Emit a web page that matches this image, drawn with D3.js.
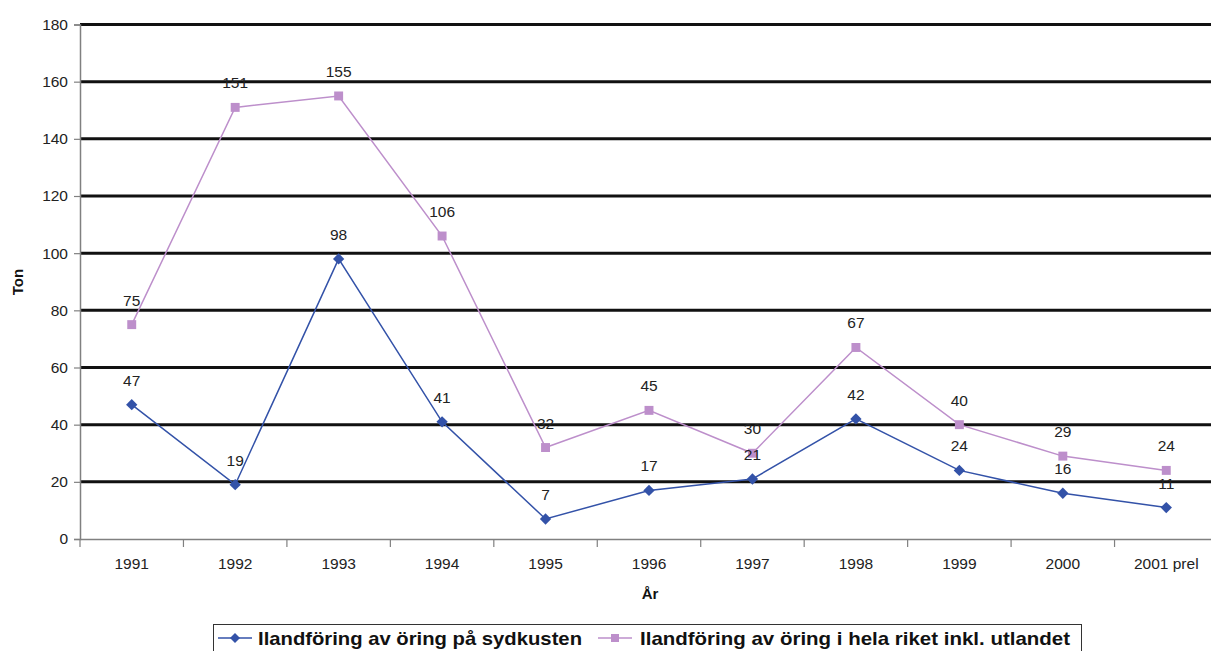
<!DOCTYPE html>
<html><head><meta charset="utf-8">
<script src="https://cdn.jsdelivr.net/npm/d3@7"></script>
<style>body{margin:0;background:#fff}svg{display:block}text{font-family:Arial,"Liberation Sans",sans-serif}</style>
</head><body>
<svg id="c" width="1211" height="651"></svg>
<script>
const categories = ["1991","1992","1993","1994","1995","1996","1997","1998","1999","2000","2001 prel"];
const sydkusten = [47,19,98,41,7,17,21,42,24,16,11];
const riket = [75,151,155,106,32,45,30,67,40,29,24];
const yTicks = [0,20,40,60,80,100,120,140,160,180];
const seriesNames = ["Ilandföring av öring på sydkusten","Ilandföring av öring i hela riket inkl. utlandet"];

const svg = d3.select("#c");
const x = d3.scaleBand().domain(categories).range([80,1218]);
const y = d3.scaleLinear().domain([0,180]).range([539,24.5]);
const cx = d => x(d) + x.bandwidth()/2;

// gridlines
svg.append("g").selectAll("line").data(yTicks.filter(t=>t>0)).join("line")
  .attr("x1",80).attr("x2",1211).attr("y1",d=>y(d)).attr("y2",d=>y(d))
  .attr("stroke","#111").attr("stroke-width",3);

// y axis
const ya = svg.append("g").attr("transform","translate(80,0)")
  .call(d3.axisLeft(y).tickValues(yTicks).tickSize(6).tickPadding(6));
ya.select(".domain").attr("stroke","#808080").attr("stroke-width",1.5);
ya.selectAll(".tick line").attr("stroke","#808080").attr("stroke-width",1.2);
ya.selectAll("text").attr("font-size",15.5).attr("fill","#222").attr("font-family","Arial, Liberation Sans, sans-serif");

// x axis
const xa = svg.append("g").attr("transform","translate(0,539)")
  .call(d3.axisBottom(x).tickSize(0).tickPadding(19));
xa.select(".domain").attr("stroke","#808080").attr("stroke-width",1.5);
xa.selectAll("text").attr("font-size",15.5).attr("fill","#222").attr("font-family","Arial, Liberation Sans, sans-serif");
svg.append("g").selectAll("line").data(categories).join("line")
  .attr("x1",d=>x(d)).attr("x2",d=>x(d)).attr("y1",539).attr("y2",547)
  .attr("stroke","#808080").attr("stroke-width",1.2);

// axis titles
svg.append("text").attr("transform","translate(23,282) rotate(-90)").attr("text-anchor","middle")
  .attr("font-size",15).attr("font-weight","bold").attr("fill","#111").text("Ton");
svg.append("text").attr("x",650).attr("y",599).attr("text-anchor","middle")
  .attr("font-size",15).attr("font-weight","bold").attr("fill","#111").text("År");

const line = d3.line().x((d,i)=>cx(categories[i])).y(d=>y(d));
const blue = "#3352a8", pink = "#bd8fcb";
const diamondPath = d3.symbol().type(d3.symbolSquare).size(64)();
const squarePath = d3.symbol().type(d3.symbolSquare).size(80)();

function series(data,color,isDiamond){
  svg.append("path").datum(data).attr("d",line).attr("fill","none").attr("stroke",color).attr("stroke-width",1.5);
  svg.append("g").selectAll("path").data(data).join("path")
    .attr("transform",(d,i)=>`translate(${cx(categories[i])},${y(d)})` + (isDiamond?" rotate(45)":""))
    .attr("d",isDiamond?diamondPath:squarePath)
    .attr("fill",color);
  svg.append("g").selectAll("text").data(data).join("text")
    .attr("x",(d,i)=>cx(categories[i])).attr("y",d=>y(d)-19)
    .attr("text-anchor","middle").attr("font-size",15.5).attr("fill","#222").text(d=>d);
}
series(riket,pink,false);
series(sydkusten,blue,true);

// legend
const lg = svg.append("g");
lg.append("rect").attr("x",213.5).attr("y",624.5).attr("width",868).attr("height",40)
  .attr("fill","#fff").attr("stroke","#333").attr("stroke-width",1);
const items = [{n:seriesNames[0],c:blue,d:true,x0:218,tx:258,tl:324},
               {n:seriesNames[1],c:pink,d:false,x0:598,tx:640,tl:430}];
items.forEach(it=>{
  lg.append("line").attr("x1",it.x0).attr("x2",it.x0+34).attr("y1",638).attr("y2",638).attr("stroke",it.c).attr("stroke-width",1.5);
  lg.append("path").attr("transform",`translate(${it.x0+17},638)`+(it.d?" rotate(45)":""))
    .attr("d",d3.symbol().type(d3.symbolSquare).size(it.d?50:64)()).attr("fill",it.c);
  lg.append("text").attr("x",it.tx).attr("y",645).attr("font-size",19).attr("font-weight","bold").attr("fill","#111")
    .attr("textLength",it.tl).attr("lengthAdjust","spacingAndGlyphs").text(it.n);
});
</script>
</body></html>
